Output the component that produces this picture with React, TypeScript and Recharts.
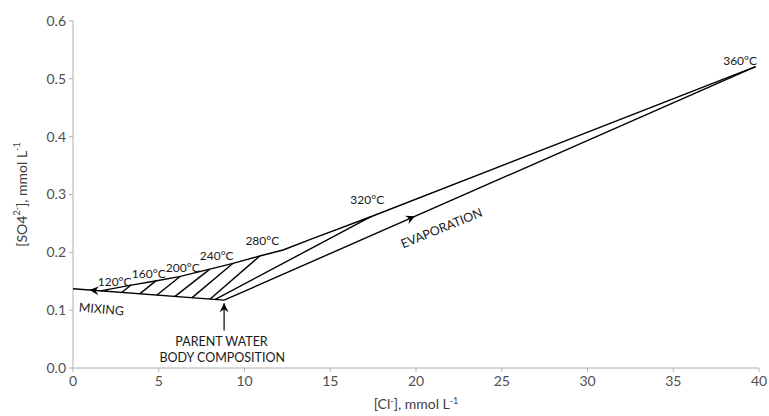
import React from 'react';
import { ScatterChart, Scatter, XAxis, YAxis, Label } from 'recharts';

// Axis ticks
const xTicks = [0, 5, 10, 15, 20, 25, 30, 35, 40];
const yTicks = [0, 0.1, 0.2, 0.3, 0.4, 0.5, 0.6];

// Mixing line (parent water -> dilute end)
const mixingX = [0, 8.81];
const mixingY = [0.137, 0.1173];

// Evaporation line
const evapX = [8.81, 39.8];
const evapY = [0.1173, 0.521];

// Upper (boiling / temperature) curve
const upperX = [1.6, 3.4, 4.8, 6.2, 7.98, 9.33, 10.89, 12.25, 14.0, 17.4, 39.8];
const upperY = [0.1334, 0.1434, 0.1505, 0.158, 0.171, 0.181, 0.1936, 0.204, 0.2243, 0.262, 0.521];

// Hatch lines: bottom on mixing line, top on upper curve
const hatchBottomX = [1.9, 2.84, 3.89, 4.88, 5.93, 6.93, 7.98, 8.27];
const hatchBottomY = [0.1327, 0.1306, 0.1282, 0.1259, 0.1235, 0.1213, 0.1189, 0.1183];
const hatchTopX = [2.03, 3.37, 4.83, 6.24, 7.98, 9.33, 10.89, 17.4];
const hatchTopY = [0.1358, 0.1432, 0.1507, 0.1583, 0.171, 0.181, 0.1936, 0.262];

// Parent water arrow
const parentArrowX = [8.81, 8.81];
const parentArrowY = [0.065, 0.112];

// Arrow tips
const mixingTip = { x: 0.97, y: 0.1348 };
const evapTip = { x: 19.94, y: 0.2623 };

// Temperature labels
const tempLabels = ['120°C', '160°C', '200°C', '240°C', '280°C', '320°C', '360°C'];
const tempX = [2.43, 4.42, 6.4, 8.38, 11.04, 17.16, 38.9];
const tempY = [0.15, 0.164, 0.173, 0.195, 0.221, 0.292, 0.532];

// Other annotations
const noteLabels = ['MIXING', 'PARENT WATER', 'BODY COMPOSITION', 'EVAPORATION'];
const noteX = [1.66, 8.66, 8.7, 21.49];
const noteY = [0.102, 0.046, 0.0177, 0.242];
const noteAngle = [5, 0, 0, -22];

const FONT = 'Lato, "Open Sans", sans-serif';
const LINE = { stroke: '#000', strokeWidth: 1.4 };

const pts = (xs: number[], ys: number[]) => xs.map((x, i) => ({ x, y: ys[i] }));

const Nothing = () => <g />;

const arrowHead = (angle: number) => (props: any) => (
  <path
    d="M0,0 L-9,-4.5 L-6,0 L-9,4.5 Z"
    transform={`translate(${props.cx},${props.cy}) rotate(${angle})`}
    fill="#000"
  />
);

const tempShape = (props: any) => (
  <text
    x={props.cx}
    y={props.cy}
    textAnchor="middle"
    dominantBaseline="central"
    fontFamily={FONT}
    fontSize={12}
    fill="#1a1a1a"
  >
    {props.payload.label}
  </text>
);

const noteShape = (props: any) => (
  <text
    x={props.cx}
    y={props.cy}
    textAnchor="middle"
    dominantBaseline="central"
    fontFamily={FONT}
    fontSize={12.5}
    fill="#1a1a1a"
    transform={`rotate(${props.payload.angle}, ${props.cx}, ${props.cy})`}
  >
    {props.payload.label}
  </text>
);

const hatches = hatchBottomX.map((bx, i) => [
  { x: bx, y: hatchBottomY[i] },
  { x: hatchTopX[i], y: hatchTopY[i] },
]);

const tempData = tempLabels.map((label, i) => ({ x: tempX[i], y: tempY[i], label }));
const noteData = noteLabels.map((label, i) => ({ x: noteX[i], y: noteY[i], label, angle: noteAngle[i] }));

const YTitle = (props: any) => {
  const vb = props.viewBox;
  const cx = 20.5;
  const cy = vb.y + vb.height / 2;
  return (
    <text
      transform={`translate(${cx},${cy}) rotate(-90)`}
      textAnchor="middle"
      dominantBaseline="central"
      fontFamily={FONT}
      fontSize={14}
      fill="#404040"
    >
      <tspan>[SO4</tspan>
      <tspan dy={-5} fontSize={9}>2-</tspan>
      <tspan dy={5}>], mmol L</tspan>
      <tspan dy={-5} fontSize={9}>-1</tspan>
    </text>
  );
};

const XTitle = (props: any) => {
  const vb = props.viewBox;
  const cx = vb.x + vb.width / 2;
  return (
    <text
      x={cx}
      y={vb.y + 41}
      textAnchor="middle"
      fontFamily={FONT}
      fontSize={14}
      fill="#404040"
    >
      <tspan>[Cl</tspan>
      <tspan dy={-5} fontSize={9}>-</tspan>
      <tspan dy={5}>], mmol L</tspan>
      <tspan dy={-5} fontSize={9}>-1</tspan>
    </text>
  );
};

export default function App() {
  return (
    <div style={{ position: 'absolute', left: 0, top: 0, width: 769, height: 416, background: '#fff' }}>
      <ScatterChart width={769} height={416} margin={{ top: 21, right: 10, bottom: 18, left: 0 }}>
        <XAxis
          type="number"
          dataKey="x"
          domain={[0, 40]}
          ticks={xTicks}
          interval={0}
          height={30}
          stroke="#b0b0b0"
          tickSize={4}
          tickMargin={4}
          tick={{ fill: '#505050', fontSize: 14, fontFamily: FONT }}
          allowDataOverflow
        >
          <Label content={XTitle} />
        </XAxis>
        <YAxis
          type="number"
          dataKey="y"
          domain={[0, 0.6]}
          ticks={yTicks}
          interval={0}
          width={73}
          stroke="#b0b0b0"
          tickSize={4}
          tickMargin={3}
          tickFormatter={(v: number) => v.toFixed(1)}
          tick={{ fill: '#505050', fontSize: 14, fontFamily: FONT }}
          allowDataOverflow
        >
          <Label content={YTitle} />
        </YAxis>

        <Scatter data={pts(mixingX, mixingY)} line={LINE} shape={Nothing} isAnimationActive={false} />
        <Scatter data={pts(evapX, evapY)} line={LINE} shape={Nothing} isAnimationActive={false} />
        <Scatter data={pts(upperX, upperY)} line={LINE} shape={Nothing} isAnimationActive={false} />
        {hatches.map((h, i) => (
          <Scatter key={'h' + i} data={h} line={LINE} shape={Nothing} isAnimationActive={false} />
        ))}
        <Scatter data={pts(parentArrowX, parentArrowY)} line={{ stroke: '#000', strokeWidth: 1.2 }} shape={Nothing} isAnimationActive={false} />

        <Scatter data={[mixingTip]} shape={arrowHead(184.4)} isAnimationActive={false} />
        <Scatter data={[evapTip]} shape={arrowHead(-23.7)} isAnimationActive={false} />
        <Scatter data={[{ x: parentArrowX[1], y: parentArrowY[1] }]} shape={arrowHead(-90)} isAnimationActive={false} />

        <Scatter data={tempData} shape={tempShape} isAnimationActive={false} />
        <Scatter data={noteData} shape={noteShape} isAnimationActive={false} />
      </ScatterChart>
    </div>
  );
}
